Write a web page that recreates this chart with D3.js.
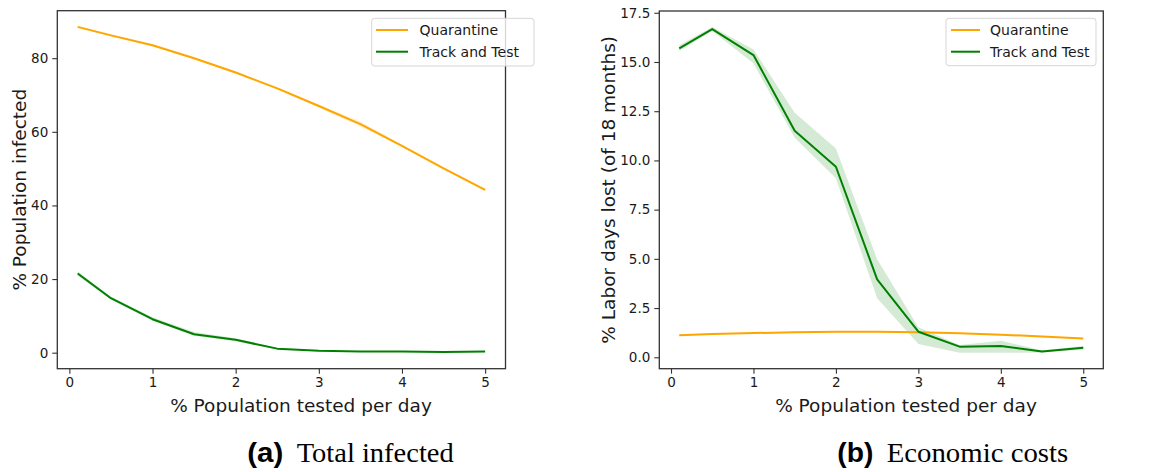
<!DOCTYPE html>
<html>
<head>
<meta charset="utf-8">
<script src="https://cdn.jsdelivr.net/npm/d3@7"></script>
<style>
  html, body { margin: 0; padding: 0; background: #fff; }
  svg { display: block; }
  .mpl { font-family: "DejaVu Sans", sans-serif; fill: #1a1a1a; }
</style>
</head>
<body>
<svg id="chart" width="1155" height="472"></svg>
<script>
// ---------- data ----------
const testedPct = [0.1, 0.5, 1, 1.5, 2, 2.5, 3, 3.5, 4, 4.5, 5];

const infQuarantine   = [88.5, 86.2, 83.5, 80.0, 76.1, 71.8, 67.0, 62.1, 56.2, 50.1, 44.2];
const infQuarantineLo = [88.2, 85.9, 83.2, 79.7, 75.8, 71.5, 66.6, 61.4, 55.9, 49.8, 43.9];
const infQuarantineHi = [88.8, 86.5, 83.8, 80.3, 76.4, 72.1, 67.4, 62.8, 56.5, 50.4, 44.5];

const infTrack   = [21.5, 14.8, 9.1, 5.0, 3.5, 1.1, 0.5, 0.3, 0.3, 0.2, 0.3];
const infTrackLo = [20.9, 14.4, 8.7, 4.6, 3.1, 0.9, 0.4, 0.2, 0.2, 0.1, 0.2];
const infTrackHi = [22.1, 15.2, 9.6, 5.6, 3.9, 1.3, 0.6, 0.4, 0.4, 0.3, 0.4];

const costQuarantine   = [1.12, 1.18, 1.23, 1.27, 1.30, 1.30, 1.27, 1.22, 1.15, 1.06, 0.95];
const costQuarantineLo = [1.09, 1.15, 1.20, 1.24, 1.27, 1.27, 1.24, 1.19, 1.12, 1.03, 0.92];
const costQuarantineHi = [1.15, 1.21, 1.26, 1.30, 1.33, 1.33, 1.30, 1.25, 1.18, 1.09, 0.98];

const costTrack   = [15.69, 16.67, 15.35, 11.51, 9.68, 3.96, 1.30, 0.54, 0.57, 0.29, 0.49];
const costTrackLo = [15.55, 16.58, 14.93, 11.15, 9.09, 3.00, 0.67, 0.23, 0.23, 0.24, 0.40];
const costTrackHi = [15.85, 16.78, 15.64, 12.42, 10.60, 4.98, 1.52, 0.62, 0.84, 0.34, 0.57];

const seriesNames = ["Quarantine", "Track and Test"];
const xTicks = [0, 1, 2, 3, 4, 5];
const yTicksInfected = [0, 20, 40, 60, 80];
const yTicksCost = [0, 2.5, 5, 7.5, 10, 12.5, 15, 17.5];

const xLabel = "% Population tested per day";
const yLabelInfected = "% Population infected";
const yLabelCost = "% Labor days lost (of 18 months)";
const captions = [["(a)", "Total infected"], ["(b)", "Economic costs"]];

// ---------- styling ----------
const ORANGE = "#ffa500", GREEN = "#008000";
const svg = d3.select("#chart");
svg.append("rect").attr("width", 1155).attr("height", 472).attr("fill", "#fff");

function panel(cfg) {
  const x = d3.scaleLinear().domain(cfg.xDomain).range([cfg.left, cfg.right]);
  const y = d3.scaleLinear().domain(cfg.yDomain).range([cfg.bottom, cfg.top]);
  const g = svg.append("g");

  const series = [
    {name: seriesNames[0], color: ORANGE, v: cfg.q, lo: cfg.qLo, hi: cfg.qHi},
    {name: seriesNames[1], color: GREEN, v: cfg.t, lo: cfg.tLo, hi: cfg.tHi}
  ];

  const area = d3.area().x((d, i) => x(testedPct[i]));
  const line = d3.line().x((d, i) => x(testedPct[i])).y(d => y(d));

  series.forEach(s => {
    g.append("path")
      .datum(s.v)
      .attr("d", area.y0((d, i) => y(s.lo[i])).y1((d, i) => y(s.hi[i])))
      .attr("fill", s.color).attr("fill-opacity", 0.17).attr("stroke", "none");
  });
  series.forEach(s => {
    g.append("path").datum(s.v).attr("d", line)
      .attr("fill", "none").attr("stroke", s.color).attr("stroke-width", 2)
      .attr("stroke-linejoin", "round");
  });

  // axes
  const xAxis = d3.axisBottom(x).tickValues(xTicks).tickSize(5).tickPadding(4)
    .tickFormat(d3.format("d"));
  const yAxis = d3.axisLeft(y).tickValues(cfg.yTicks).tickSize(5).tickPadding(4)
    .tickFormat(cfg.yFmt);
  const xa = g.append("g").attr("transform", `translate(0,${cfg.bottom})`).call(xAxis);
  const ya = g.append("g").attr("transform", `translate(${cfg.left},0)`).call(yAxis);
  [xa, ya].forEach(a => {
    a.select(".domain").remove();
    a.selectAll(".tick line").attr("stroke", "#333").attr("stroke-width", 1.1);
    a.selectAll(".tick text").attr("class", "mpl").attr("font-family", "DejaVu Sans")
      .attr("font-size", 13.5).attr("fill", "#1a1a1a");
  });

  // frame
  g.append("rect").attr("x", cfg.left).attr("y", cfg.top)
    .attr("width", cfg.right - cfg.left).attr("height", cfg.bottom - cfg.top)
    .attr("fill", "none").attr("stroke", "#333").attr("stroke-width", 1.3);

  // labels
  g.append("text").attr("class", "mpl").attr("x", cfg.xLabelX).attr("y", 411.5)
    .attr("text-anchor", "middle").attr("font-size", 18.5).text(xLabel);
  g.append("text").attr("class", "mpl")
    .attr("transform", `translate(${cfg.yLabelX},${(cfg.top + cfg.bottom) / 2}) rotate(-90)`)
    .attr("text-anchor", "middle").attr("dominant-baseline", "central")
    .attr("font-size", 18.5).text(cfg.yLabel);

  // legend
  const L = cfg.legend;
  g.append("rect").attr("x", L.x0).attr("y", L.y0).attr("width", L.x1 - L.x0).attr("height", L.y1 - L.y0)
    .attr("rx", 3).attr("fill", "#fff").attr("fill-opacity", 0.8)
    .attr("stroke", "#d6d6d6").attr("stroke-width", 1);
  series.forEach((s, i) => {
    const ly = L.firstY + i * 21.7;
    g.append("line").attr("x1", L.lx0).attr("x2", L.lx1).attr("y1", ly).attr("y2", ly)
      .attr("stroke", s.color).attr("stroke-width", 2);
    g.append("text").attr("class", "mpl").attr("x", L.tx).attr("y", ly + 5)
      .attr("font-size", 14).text(s.name);
  });

  // caption
  const c = cfg.caption;
  svg.append("text").attr("x", c.x1).attr("y", 461.7)
    .attr("font-family", "Liberation Sans")
    .attr("font-weight", "bold")
    .attr("font-size", 27).attr("textLength", c.w1).attr("lengthAdjust", "spacingAndGlyphs")
    .attr("fill", "#000")
    .text(c.t1);
  svg.append("text").attr("x", c.x2).attr("y", 461.7)
    .attr("font-family", "Liberation Serif")
    .attr("font-size", 27).attr("textLength", c.w2).attr("lengthAdjust", "spacingAndGlyphs")
    .attr("fill", "#000")
    .text(c.t2);
}

panel({
  left: 57.3, right: 505.5, top: 10.7, bottom: 368.7,
  xDomain: [-0.145, 5.245], yDomain: [-4.35, 92.9],
  yTicks: yTicksInfected, yFmt: d3.format("d"),
  q: infQuarantine, qLo: infQuarantineLo, qHi: infQuarantineHi,
  t: infTrack, tLo: infTrackLo, tHi: infTrackHi,
  xLabelX: 301, yLabelX: 19, yLabel: yLabelInfected,
  legend: {x0: 371.7, x1: 534, y0: 18.3, y1: 66, lx0: 376, lx1: 408, tx: 419.5, firstY: 30},
  caption: {t1: captions[0][0], t2: captions[0][1], x1: 247.3, w1: 36, x2: 296.7, w2: 157}
});

panel({
  left: 659.3, right: 1103.3, top: 11, bottom: 368.7,
  xDomain: [-0.142, 5.243], yDomain: [-0.58, 17.59],
  yTicks: yTicksCost, yFmt: d3.format(".1f"),
  q: costQuarantine, qLo: costQuarantineLo, qHi: costQuarantineHi,
  t: costTrack, tLo: costTrackLo, tHi: costTrackHi,
  xLabelX: 906, yLabelX: 608, yLabel: yLabelCost,
  legend: {x0: 946, x1: 1096, y0: 18.3, y1: 65.7, lx0: 951, lx1: 980, tx: 990, firstY: 30},
  caption: {t1: captions[1][0], t2: captions[1][1], x1: 837.3, w1: 36, x2: 886.7, w2: 181.6}
});
</script>
</body>
</html>
